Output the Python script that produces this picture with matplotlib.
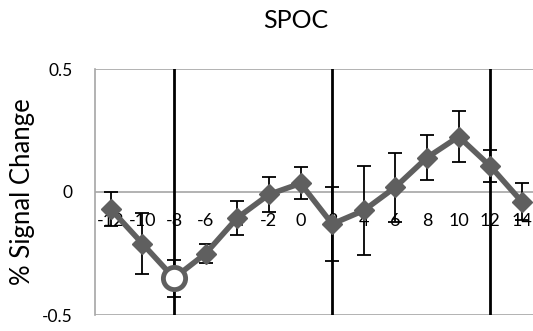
import numpy as np
import matplotlib.pyplot as plt

plt.rcParams['font.family'] = ['Lato', 'DejaVu Sans']

# time points (s) and mean % signal change with error bars
tpts = [-12, -10, -8, -6, -4, -2, 0, 2, 4, 6, 8, 10, 12, 14]
psc = [-0.07, -0.21, -0.35, -0.25, -0.105, -0.01, 0.035, -0.13, -0.075, 0.02, 0.14, 0.225, 0.105, -0.04]
err = [0.07, 0.125, 0.075, 0.04, 0.07, 0.072, 0.065, 0.15, 0.18, 0.14, 0.09, 0.103, 0.065, 0.075]
open_pt = -8          # point drawn as an open circle
event_lines = [-8, 2, 12]

fig = plt.figure(figsize=(5.33, 3.31), dpi=100)
ax = fig.add_axes([95/533, 1-315/331, 1-95/533, (315-69)/331])

gray = '#5f5f5f'
ax.errorbar(tpts, psc, yerr=err, fmt='none', ecolor='black', elinewidth=1.3,
            capsize=5, capthick=1.3, zorder=3)
ax.plot(tpts, psc, color=gray, lw=4, marker='D', ms=10, mfc=gray, mec=gray, zorder=4)
i = tpts.index(open_pt)
ax.plot(tpts[i], psc[i], 'o', ms=16, mfc='white', mec=gray, mew=3.5, zorder=5)

for x in event_lines:
    ax.axvline(x, color='black', lw=2, zorder=2)

for y in [0.5, 0, -0.5]:
    ax.axhline(y, color='#a6a6a6', lw=1.2, zorder=1)

ax.set_xlim(-13, 14.7)
ax.set_ylim(-0.5, 0.5)
ax.set_xticks([])
ax.set_yticks([-0.5, 0, 0.5])
ax.set_yticklabels(['-0.5', '0', '0.5'], fontsize=12.5)
ax.tick_params(axis='y', length=0, pad=16)
for s in ['top', 'right', 'bottom']:
    ax.spines[s].set_visible(False)
ax.spines['left'].set_color('#a6a6a6')
ax.spines['left'].set_linewidth(1.2)

for t in tpts:
    ax.text(t, -0.118, str(t), ha='center', va='center', fontsize=13, zorder=3)

fig.text(23/533, 1-192/331, '% Signal Change', rotation=90, ha='center', va='center', fontsize=18.5)
fig.text(296/533, 1-21/331, 'SPOC', ha='center', va='center', fontsize=18)

fig.savefig('out.png', dpi=100)
